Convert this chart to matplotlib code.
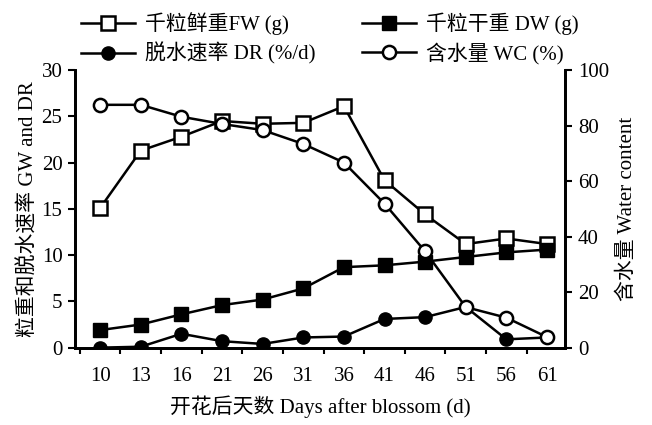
import numpy as np
import matplotlib
matplotlib.use("Agg")
import matplotlib.pyplot as plt

plt.rcParams['font.family'] = ['Liberation Serif', 'Noto Sans CJK SC']
plt.rcParams['axes.unicode_minus'] = False

days = ['10', '13', '16', '21', '26', '31', '36', '41', '46', '51', '56', '61']

# fresh weight, dry weight, dehydration rate (left axis)
fw = [15.1, 21.3, 22.8, 24.5, 24.2, 24.3, 26.1, 18.1, 14.4, 11.2, 11.8, 11.2]
dw = [1.9, 2.5, 3.6, 4.6, 5.2, 6.4, 8.7, 8.9, 9.3, 9.8, 10.3, 10.6]
dr = [0.0, 0.1, 1.5, 0.7, 0.4, 1.1, 1.2, 3.1, 3.3, 4.4, 0.9, 1.1]
# water content (right axis)
wc = [87.5, 87.5, 83.2, 80.6, 78.4, 73.4, 66.7, 51.9, 34.7, 14.6, 10.8, 3.8]

fig = plt.figure(figsize=(6.52, 4.25), dpi=100)
ax = fig.add_axes([0.115, 0.182, 0.752, 0.653])
ax2 = ax.twinx()

x = np.arange(len(days))
lw = 1.8
ms = 9.5

l_fw, = ax.plot(x, fw, color='black', lw=lw, marker='s', ms=ms, mfc='white', mec='black', mew=1.8)
l_dw, = ax.plot(x, dw, color='black', lw=lw, marker='s', ms=ms, mfc='black', mec='black')
l_dr, = ax.plot(x, dr, color='black', lw=lw, marker='o', ms=ms, mfc='black', mec='black')
l_wc, = ax2.plot(x, wc, color='black', lw=lw, marker='o', ms=ms, mfc='white', mec='black', mew=1.8)

ax.set_xlim(-0.62, 11.45)
ax.set_ylim(0, 30)
ax2.set_ylim(0, 100)
ax.set_yticks(np.arange(0, 31, 5))
ax2.set_yticks(np.arange(0, 101, 20))

fs = 15
ax.set_xticks(x)
ax.set_xticklabels(days)
ax.set_xticks(np.arange(-0.5, 11, 1.0), minor=True)
ax.tick_params(axis='x', which='major', length=0, pad=14, labelsize=fs)
ax.tick_params(axis='x', which='minor', length=4, width=1.5, direction='out')
ax.tick_params(axis='y', length=5, width=1.5, labelsize=fs, pad=4)
ax2.tick_params(axis='y', length=5, width=1.5, labelsize=fs, pad=4)

for a in (ax, ax2):
    a.spines['top'].set_visible(False)
    for s in ('left', 'right', 'bottom'):
        a.spines[s].set_linewidth(2)

ax.set_xlabel('开花后天数 Days after blossom (d)', fontsize=fs, labelpad=7)
ax.set_ylabel('粒重和脱水速率 GW and DR', fontsize=fs, labelpad=2)
ax2.set_ylabel('含水量 Water content', fontsize=fs, labelpad=6)

fig.legend([l_fw, l_dr, l_dw, l_wc],
           ['千粒鲜重FW (g)', '脱水速率 DR (%/d)', '千粒干重 DW (g)', '含水量 WC (%)'],
           ncol=2, frameon=False, fontsize=fs, handlelength=2.6,
           columnspacing=2.2, labelspacing=0.35, handletextpad=0.5,
           loc='upper left', bbox_to_anchor=(0.095, 1.015))

fig.savefig('out.png', dpi=100)
